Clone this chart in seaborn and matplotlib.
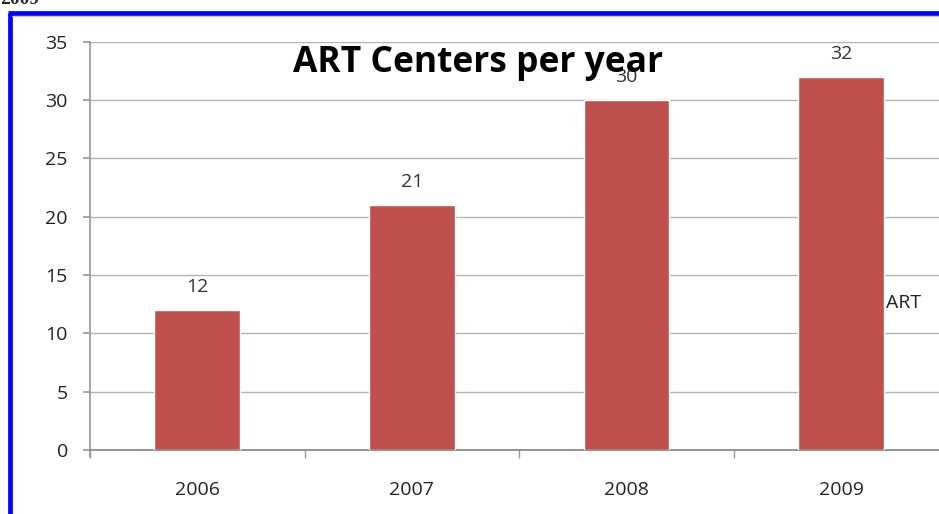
import numpy as np
import pandas as pd
import seaborn as sns
import matplotlib.pyplot as plt
from matplotlib.lines import Line2D

# data
years = ['2006', '2007', '2008', '2009']
centers = [12, 21, 30, 32]
series_name = 'ART'

sns.set_theme(style='white')
plt.rcParams['font.family'] = ['Open Sans', 'DejaVu Sans']

df = pd.DataFrame({'year': years, 'centers': centers})

fig = plt.figure(figsize=(9.39, 5.14), dpi=100)
fig.patch.set_facecolor('white')
W, H = 939, 514
ax = fig.add_axes([90 / W, 64 / H, 858.5 / W, 408.3 / H])

sns.barplot(data=df, x='year', y='centers', color='#C0504D', saturation=1,
            width=0.4, ax=ax, zorder=3)

ax.set_ylim(0, 35)
ax.set_xlim(-0.5, 3.5)
ax.set_yticks(np.arange(0, 36, 5))
ax.yaxis.grid(True, color='#b4b4b4', linewidth=1)
ax.set_axisbelow(True)
ax.set_xlabel('')
ax.set_ylabel('')

for s in ['top', 'right']:
    ax.spines[s].set_visible(False)
ax.spines['left'].set_color('#9a9a9a')
ax.spines['bottom'].set_color('#868686')
ax.spines['left'].set_bounds(-0.6, 35)

ax.tick_params(axis='y', left=True, length=5, color='#9a9a9a', pad=11,
               labelsize=14, labelcolor='#222222')
ax.set_xticks(range(len(years)))
ax.set_xticks(np.arange(-0.5, 4, 1), minor=True)
ax.tick_params(axis='x', which='major', length=0, pad=22, labelsize=14,
               labelcolor='#222222')
ax.tick_params(axis='x', which='minor', bottom=True, length=6, color='#9a9a9a')

ax.bar_label(ax.containers[0], padding=10, fontsize=14, color='#333333')

fig.text(478 / W, 1 - 63 / H, 'ART Centers per year', fontsize=25.5,
         fontweight='bold', ha='center', va='center', color='black')
fig.text(886 / W, 1 - 303 / H, series_name, fontsize=14, ha='left',
         va='center', color='#222222')

# cut-off caption above the frame
fig.text(0.0, 1 - 4 / H, '2009', fontsize=14, fontweight='bold',
         family='Liberation Serif', ha='left', va='baseline')

# blue frame (left and top edges visible)
fig.add_artist(Line2D([9.5 / W, 9.5 / W], [0, 1 - 12.5 / H],
                      transform=fig.transFigure, color='#0000ff', linewidth=3.4,
                      solid_capstyle='butt'))
fig.add_artist(Line2D([7.5 / W, 1], [1 - 12.5 / H, 1 - 12.5 / H],
                      transform=fig.transFigure, color='#0000ff', linewidth=3.4,
                      solid_capstyle='butt'))
fig.add_artist(Line2D([12 / W, 1], [1 - 15.5 / H, 1 - 15.5 / H],
                      transform=fig.transFigure, color='#c8c8c8', linewidth=0.8))

fig.savefig('out.png', dpi=100)
